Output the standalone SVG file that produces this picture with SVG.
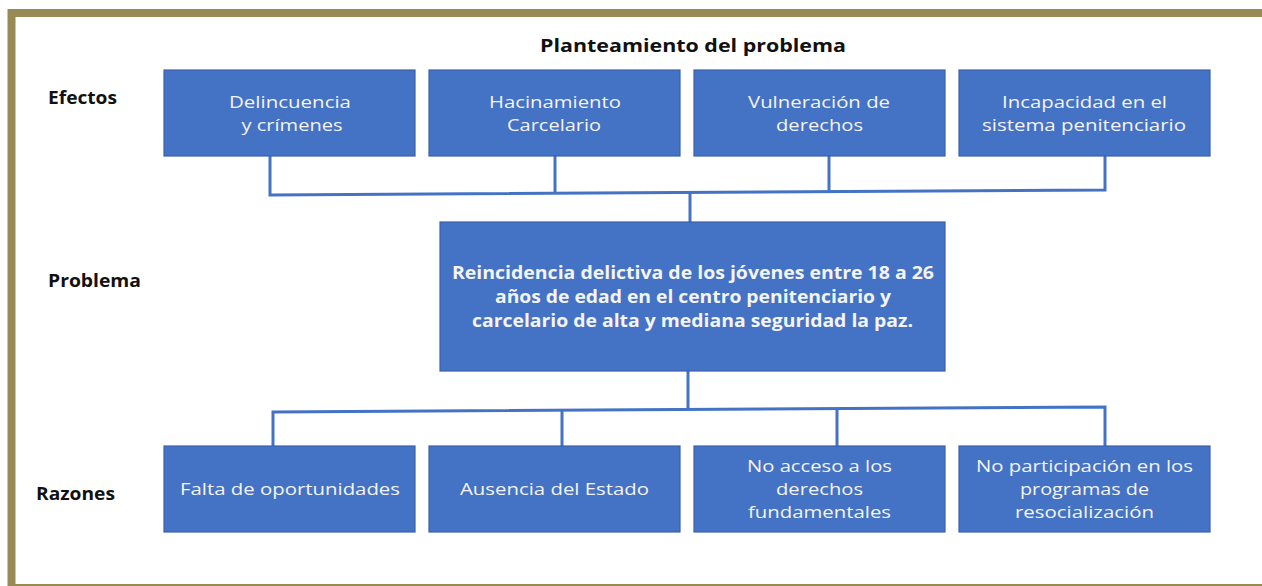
<svg xmlns="http://www.w3.org/2000/svg" width="1262" height="586" viewBox="0 0 1262 586">
<style>
.box{fill:#4472C4;stroke:#3A62AA;stroke-width:1.2}
text{font-family:"Open Sans","Liberation Sans",sans-serif}
.t{font-size:17px;fill:#F4F4F4;text-anchor:middle}
.tb{font-size:17.5px;font-weight:bold;fill:#F4F4F4;text-anchor:middle}
.lbl{font-size:17px;font-weight:bold;fill:#111}
.ttl{font-size:18.5px;font-weight:bold;fill:#111;text-anchor:middle}
.c{fill:none;stroke:#4472C4;stroke-width:3;stroke-linejoin:miter}
</style>
<rect x="0" y="0" width="1262" height="586" fill="#FFFFFF"/>
<rect x="11.5" y="13" width="1300" height="575" fill="none" stroke="#978A55" stroke-width="8"/>
<text class="ttl" x="693" y="52" textLength="306" lengthAdjust="spacingAndGlyphs">Planteamiento del problema</text>
<text class="lbl" x="48" y="104" textLength="69" lengthAdjust="spacingAndGlyphs">Efectos</text>
<text class="lbl" x="48" y="287" textLength="93" lengthAdjust="spacingAndGlyphs">Problema</text>
<text class="lbl" x="36" y="500" textLength="79" lengthAdjust="spacingAndGlyphs">Razones</text>
<g id="connectors">
<path class="c" d="M270 156 V195 L1105 190 V156"/>
<path class="c" d="M555 156 V194"/>
<path class="c" d="M829 156 V192"/>
<path class="c" d="M690 193 V222"/>
<path class="c" d="M688 371 V409"/>
<path class="c" d="M273 446 V412 L1105 407 V446"/>
<path class="c" d="M562 446 V411"/>
<path class="c" d="M837 446 V409"/>
</g>
<g id="e1"><rect class="box" x="164" y="70" width="251" height="86"/><text class="t" x="290" y="108" textLength="122" lengthAdjust="spacingAndGlyphs">Delincuencia</text><text class="t" x="292" y="131" textLength="101" lengthAdjust="spacingAndGlyphs">y crímenes</text></g>
<g id="e2"><rect class="box" x="429" y="70" width="251" height="86"/><text class="t" x="555" y="108" textLength="132" lengthAdjust="spacingAndGlyphs">Hacinamiento</text><text class="t" x="554" y="131" textLength="94" lengthAdjust="spacingAndGlyphs">Carcelario</text></g>
<g id="e3"><rect class="box" x="694" y="70" width="251" height="86"/><text class="t" x="819" y="108" textLength="142" lengthAdjust="spacingAndGlyphs">Vulneración de</text><text class="t" x="819.5" y="131" textLength="87" lengthAdjust="spacingAndGlyphs">derechos</text></g>
<g id="e4"><rect class="box" x="959" y="70" width="251" height="86"/><text class="t" x="1084.5" y="108" textLength="165" lengthAdjust="spacingAndGlyphs">Incapacidad en el</text><text class="t" x="1084" y="131" textLength="204" lengthAdjust="spacingAndGlyphs">sistema penitenciario</text></g>
<g id="p"><rect class="box" x="440" y="222" width="505" height="149"/><text class="tb" x="693" y="279" textLength="482" lengthAdjust="spacingAndGlyphs">Reincidencia delictiva de los jóvenes entre 18 a 26</text><text class="tb" x="693" y="303" textLength="396" lengthAdjust="spacingAndGlyphs">años de edad en el centro penitenciario y</text><text class="tb" x="692.5" y="327" textLength="441" lengthAdjust="spacingAndGlyphs">carcelario de alta y mediana seguridad la paz.</text></g>
<g id="r1"><rect class="box" x="164" y="446" width="251" height="86"/><text class="t" x="290" y="495" textLength="220" lengthAdjust="spacingAndGlyphs">Falta de oportunidades</text></g>
<g id="r2"><rect class="box" x="429" y="446" width="251" height="86"/><text class="t" x="554.5" y="495" textLength="189" lengthAdjust="spacingAndGlyphs">Ausencia del Estado</text></g>
<g id="r3"><rect class="box" x="694" y="446" width="251" height="86"/><text class="t" x="819.5" y="472" textLength="145" lengthAdjust="spacingAndGlyphs">No acceso a los</text><text class="t" x="819.5" y="495" textLength="87" lengthAdjust="spacingAndGlyphs">derechos</text><text class="t" x="819.5" y="518" textLength="143" lengthAdjust="spacingAndGlyphs">fundamentales</text></g>
<g id="r4"><rect class="box" x="959" y="446" width="251" height="86"/><text class="t" x="1084.5" y="472" textLength="217" lengthAdjust="spacingAndGlyphs">No participación en los</text><text class="t" x="1084.5" y="495" textLength="129" lengthAdjust="spacingAndGlyphs">programas de</text><text class="t" x="1084.5" y="518" textLength="139" lengthAdjust="spacingAndGlyphs">resocialización</text></g>
</svg>
